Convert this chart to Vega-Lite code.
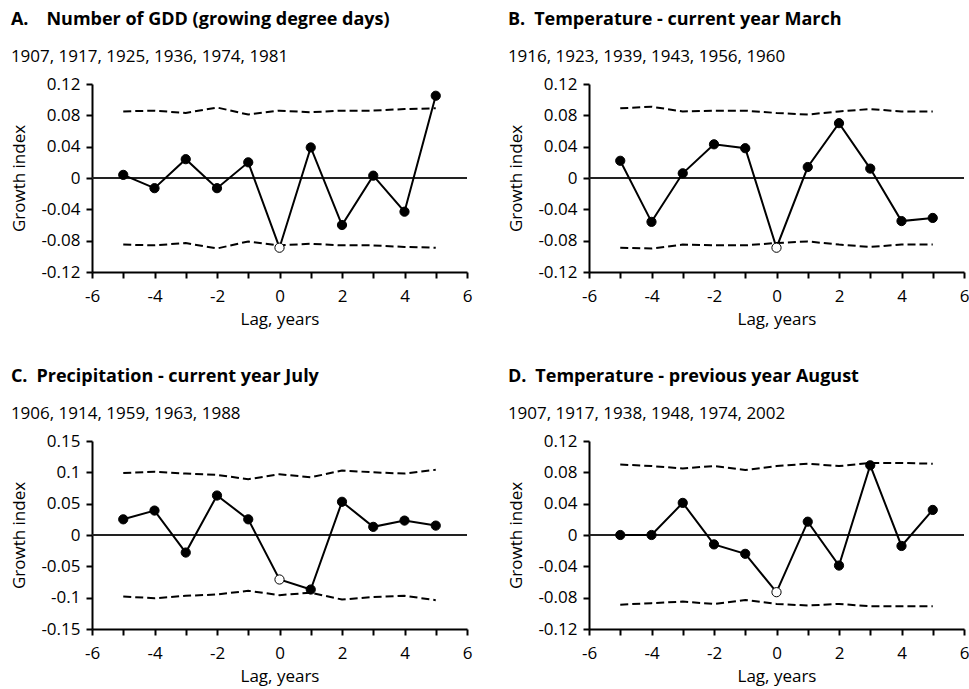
{
  "$schema": "https://vega.github.io/schema/vega-lite/v6.json",
  "padding": {"left": 10, "top": 11, "right": 5, "bottom": 5},
  "background": "white",
  "config": {
    "view": {"stroke": null},
    "font": "Open Sans",
    "axis": {
      "grid": false,
      "domainColor": "black",
      "domainWidth": 2,
      "tickColor": "black",
      "tickWidth": 2,
      "tickSize": 6,
      "labelFont": "Open Sans",
      "labelFontSize": 17,
      "labelColor": "black",
      "labelOverlap": false,
      "titleFont": "Open Sans",
      "titleFontSize": 17,
      "titleFontWeight": "normal",
      "titleColor": "black"
    },
    "axisX": {"labelPadding": 10, "titlePadding": 7, "labelFlush": false, "tickCount": 13},
    "axisY": {"labelPadding": 6, "titlePadding": 12, "tickCount": 7},
    "title": {
      "anchor": "start",
      "frame": "bounds",
      "font": "Open Sans",
      "fontSize": 18,
      "fontWeight": "bold",
      "color": "black",
      "subtitleFont": "Open Sans",
      "subtitleFontSize": 17,
      "subtitleColor": "black",
      "subtitlePadding": 20,
      "offset": 10
    }
  },
  "datasets": {
    "growth": [
      {"panel": "A", "lag": -5, "index": 0.004, "upper": 0.085, "lower": -0.085},
      {"panel": "A", "lag": -4, "index": -0.013, "upper": 0.086, "lower": -0.086},
      {"panel": "A", "lag": -3, "index": 0.024, "upper": 0.083, "lower": -0.083},
      {"panel": "A", "lag": -2, "index": -0.013, "upper": 0.090, "lower": -0.090},
      {"panel": "A", "lag": -1, "index": 0.020, "upper": 0.081, "lower": -0.081},
      {"panel": "A", "lag": 0, "index": -0.089, "upper": 0.086, "lower": -0.086},
      {"panel": "A", "lag": 1, "index": 0.039, "upper": 0.084, "lower": -0.084},
      {"panel": "A", "lag": 2, "index": -0.060, "upper": 0.086, "lower": -0.086},
      {"panel": "A", "lag": 3, "index": 0.003, "upper": 0.086, "lower": -0.086},
      {"panel": "A", "lag": 4, "index": -0.043, "upper": 0.088, "lower": -0.088},
      {"panel": "A", "lag": 5, "index": 0.105, "upper": 0.089, "lower": -0.089},
      {"panel": "B", "lag": -5, "index": 0.022, "upper": 0.089, "lower": -0.089},
      {"panel": "B", "lag": -4, "index": -0.056, "upper": 0.091, "lower": -0.090},
      {"panel": "B", "lag": -3, "index": 0.006, "upper": 0.085, "lower": -0.085},
      {"panel": "B", "lag": -2, "index": 0.043, "upper": 0.086, "lower": -0.086},
      {"panel": "B", "lag": -1, "index": 0.038, "upper": 0.086, "lower": -0.086},
      {"panel": "B", "lag": 0, "index": -0.089, "upper": 0.083, "lower": -0.083},
      {"panel": "B", "lag": 1, "index": 0.014, "upper": 0.081, "lower": -0.081},
      {"panel": "B", "lag": 2, "index": 0.070, "upper": 0.085, "lower": -0.085},
      {"panel": "B", "lag": 3, "index": 0.012, "upper": 0.088, "lower": -0.088},
      {"panel": "B", "lag": 4, "index": -0.055, "upper": 0.085, "lower": -0.085},
      {"panel": "B", "lag": 5, "index": -0.051, "upper": 0.085, "lower": -0.085},
      {"panel": "C", "lag": -5, "index": 0.025, "upper": 0.099, "lower": -0.098},
      {"panel": "C", "lag": -4, "index": 0.039, "upper": 0.101, "lower": -0.101},
      {"panel": "C", "lag": -3, "index": -0.028, "upper": 0.098, "lower": -0.097},
      {"panel": "C", "lag": -2, "index": 0.063, "upper": 0.096, "lower": -0.095},
      {"panel": "C", "lag": -1, "index": 0.025, "upper": 0.089, "lower": -0.089},
      {"panel": "C", "lag": 0, "index": -0.071, "upper": 0.097, "lower": -0.096},
      {"panel": "C", "lag": 1, "index": -0.087, "upper": 0.092, "lower": -0.092},
      {"panel": "C", "lag": 2, "index": 0.053, "upper": 0.103, "lower": -0.103},
      {"panel": "C", "lag": 3, "index": 0.013, "upper": 0.100, "lower": -0.099},
      {"panel": "C", "lag": 4, "index": 0.023, "upper": 0.098, "lower": -0.097},
      {"panel": "C", "lag": 5, "index": 0.015, "upper": 0.104, "lower": -0.104},
      {"panel": "D", "lag": -5, "index": 0.000, "upper": 0.090, "lower": -0.089},
      {"panel": "D", "lag": -4, "index": 0.000, "upper": 0.088, "lower": -0.087},
      {"panel": "D", "lag": -3, "index": 0.041, "upper": 0.085, "lower": -0.085},
      {"panel": "D", "lag": -2, "index": -0.012, "upper": 0.088, "lower": -0.088},
      {"panel": "D", "lag": -1, "index": -0.024, "upper": 0.083, "lower": -0.083},
      {"panel": "D", "lag": 0, "index": -0.073, "upper": 0.088, "lower": -0.088},
      {"panel": "D", "lag": 1, "index": 0.017, "upper": 0.091, "lower": -0.090},
      {"panel": "D", "lag": 2, "index": -0.039, "upper": 0.088, "lower": -0.088},
      {"panel": "D", "lag": 3, "index": 0.089, "upper": 0.092, "lower": -0.091},
      {"panel": "D", "lag": 4, "index": -0.014, "upper": 0.092, "lower": -0.091},
      {"panel": "D", "lag": 5, "index": 0.032, "upper": 0.091, "lower": -0.091}
    ]
  },
  "columns": 2,
  "bounds": "flush",
  "spacing": {"row": 169, "column": 122},
  "concat": [
    {
      "width": 375, "height": 188,
      "title": {"text": "A.\u2003Number of GDD (growing degree days)", "subtitle": "1907, 1917, 1925, 1936, 1974, 1981"},
      "data": {"name": "growth"},
      "transform": [{"filter": "datum.panel == 'A'"}],
      "encoding": {
        "x": {"field": "lag", "type": "quantitative", "title": "Lag, years",
              "scale": {"domain": [-6, 6], "nice": false},
              "axis": {"values": [-6,-5,-4,-3,-2,-1,0,1,2,3,4,5,6], "tickCount": 13, "labelExpr": "datum.value % 2 == 0 ? '' + datum.value : ''"}}
      },
      "layer": [
        {"mark": {"type": "rule", "color": "#222222", "strokeWidth": 1},
         "encoding": {"x": {"datum": -6, "type": "quantitative"}, "x2": {"datum": 6}, "y": {"datum": 0, "type": "quantitative", "title": "Growth index",
           "scale": {"domain": [-0.12, 0.12], "nice": false},
           "axis": {"values": [-0.12,-0.08,-0.04,0,0.04,0.08,0.12], "tickCount": 7, "labelOverlap": false, "labelExpr": "'' + datum.value"}}}},
        {"mark": {"type": "line", "color": "black", "strokeDash": [8, 4], "strokeWidth": 2},
         "encoding": {"y": {"field": "upper", "type": "quantitative", "title": "Growth index"}}},
        {"mark": {"type": "line", "color": "black", "strokeDash": [8, 4], "strokeWidth": 2},
         "encoding": {"y": {"field": "lower", "type": "quantitative", "title": "Growth index"}}},
        {"mark": {"type": "line", "color": "black", "strokeWidth": 2},
         "encoding": {"y": {"field": "index", "type": "quantitative", "title": "Growth index"}}},
        {"mark": {"type": "circle", "size": 85, "stroke": "black", "strokeWidth": 1, "opacity": 1},
         "encoding": {"y": {"field": "index", "type": "quantitative", "title": "Growth index"},
                      "fill": {"condition": {"test": "datum.lag == 0", "value": "white"}, "value": "black"}}}
      ]
    },
    {
      "width": 375, "height": 188,
      "title": {"text": "B.\u2002Temperature - current year March", "subtitle": "1916, 1923, 1939, 1943, 1956, 1960"},
      "data": {"name": "growth"},
      "transform": [{"filter": "datum.panel == 'B'"}],
      "encoding": {
        "x": {"field": "lag", "type": "quantitative", "title": "Lag, years",
              "scale": {"domain": [-6, 6], "nice": false},
              "axis": {"values": [-6,-5,-4,-3,-2,-1,0,1,2,3,4,5,6], "tickCount": 13, "labelExpr": "datum.value % 2 == 0 ? '' + datum.value : ''"}}
      },
      "layer": [
        {"mark": {"type": "rule", "color": "#222222", "strokeWidth": 1},
         "encoding": {"x": {"datum": -6, "type": "quantitative"}, "x2": {"datum": 6}, "y": {"datum": 0, "type": "quantitative", "title": "Growth index",
           "scale": {"domain": [-0.12, 0.12], "nice": false},
           "axis": {"values": [-0.12,-0.08,-0.04,0,0.04,0.08,0.12], "tickCount": 7, "labelOverlap": false, "labelExpr": "'' + datum.value"}}}},
        {"mark": {"type": "line", "color": "black", "strokeDash": [8, 4], "strokeWidth": 2},
         "encoding": {"y": {"field": "upper", "type": "quantitative", "title": "Growth index"}}},
        {"mark": {"type": "line", "color": "black", "strokeDash": [8, 4], "strokeWidth": 2},
         "encoding": {"y": {"field": "lower", "type": "quantitative", "title": "Growth index"}}},
        {"mark": {"type": "line", "color": "black", "strokeWidth": 2},
         "encoding": {"y": {"field": "index", "type": "quantitative", "title": "Growth index"}}},
        {"mark": {"type": "circle", "size": 85, "stroke": "black", "strokeWidth": 1, "opacity": 1},
         "encoding": {"y": {"field": "index", "type": "quantitative", "title": "Growth index"},
                      "fill": {"condition": {"test": "datum.lag == 0", "value": "white"}, "value": "black"}}}
      ]
    },
    {
      "width": 375, "height": 188,
      "title": {"text": "C.\u2002Precipitation - current year July", "subtitle": "1906, 1914, 1959, 1963, 1988"},
      "data": {"name": "growth"},
      "transform": [{"filter": "datum.panel == 'C'"}],
      "encoding": {
        "x": {"field": "lag", "type": "quantitative", "title": "Lag, years",
              "scale": {"domain": [-6, 6], "nice": false},
              "axis": {"values": [-6,-5,-4,-3,-2,-1,0,1,2,3,4,5,6], "tickCount": 13, "labelExpr": "datum.value % 2 == 0 ? '' + datum.value : ''"}}
      },
      "layer": [
        {"mark": {"type": "rule", "color": "#222222", "strokeWidth": 1},
         "encoding": {"x": {"datum": -6, "type": "quantitative"}, "x2": {"datum": 6}, "y": {"datum": 0, "type": "quantitative", "title": "Growth index",
           "scale": {"domain": [-0.15, 0.15], "nice": false},
           "axis": {"values": [-0.15,-0.1,-0.05,0,0.05,0.1,0.15], "tickCount": 7, "labelOverlap": false, "labelExpr": "'' + datum.value"}}}},
        {"mark": {"type": "line", "color": "black", "strokeDash": [8, 4], "strokeWidth": 2},
         "encoding": {"y": {"field": "upper", "type": "quantitative", "title": "Growth index"}}},
        {"mark": {"type": "line", "color": "black", "strokeDash": [8, 4], "strokeWidth": 2},
         "encoding": {"y": {"field": "lower", "type": "quantitative", "title": "Growth index"}}},
        {"mark": {"type": "line", "color": "black", "strokeWidth": 2},
         "encoding": {"y": {"field": "index", "type": "quantitative", "title": "Growth index"}}},
        {"mark": {"type": "circle", "size": 85, "stroke": "black", "strokeWidth": 1, "opacity": 1},
         "encoding": {"y": {"field": "index", "type": "quantitative", "title": "Growth index"},
                      "fill": {"condition": {"test": "datum.lag == 0", "value": "white"}, "value": "black"}}}
      ]
    },
    {
      "width": 375, "height": 188,
      "title": {"text": "D.\u2002Temperature - previous year August", "subtitle": "1907, 1917, 1938, 1948, 1974, 2002"},
      "data": {"name": "growth"},
      "transform": [{"filter": "datum.panel == 'D'"}],
      "encoding": {
        "x": {"field": "lag", "type": "quantitative", "title": "Lag, years",
              "scale": {"domain": [-6, 6], "nice": false},
              "axis": {"values": [-6,-5,-4,-3,-2,-1,0,1,2,3,4,5,6], "tickCount": 13, "labelExpr": "datum.value % 2 == 0 ? '' + datum.value : ''"}}
      },
      "layer": [
        {"mark": {"type": "rule", "color": "#222222", "strokeWidth": 1},
         "encoding": {"x": {"datum": -6, "type": "quantitative"}, "x2": {"datum": 6}, "y": {"datum": 0, "type": "quantitative", "title": "Growth index",
           "scale": {"domain": [-0.12, 0.12], "nice": false},
           "axis": {"values": [-0.12,-0.08,-0.04,0,0.04,0.08,0.12], "tickCount": 7, "labelOverlap": false, "labelExpr": "'' + datum.value"}}}},
        {"mark": {"type": "line", "color": "black", "strokeDash": [8, 4], "strokeWidth": 2},
         "encoding": {"y": {"field": "upper", "type": "quantitative", "title": "Growth index"}}},
        {"mark": {"type": "line", "color": "black", "strokeDash": [8, 4], "strokeWidth": 2},
         "encoding": {"y": {"field": "lower", "type": "quantitative", "title": "Growth index"}}},
        {"mark": {"type": "line", "color": "black", "strokeWidth": 2},
         "encoding": {"y": {"field": "index", "type": "quantitative", "title": "Growth index"}}},
        {"mark": {"type": "circle", "size": 85, "stroke": "black", "strokeWidth": 1, "opacity": 1},
         "encoding": {"y": {"field": "index", "type": "quantitative", "title": "Growth index"},
                      "fill": {"condition": {"test": "datum.lag == 0", "value": "white"}, "value": "black"}}}
      ]
    }
  ]
}
